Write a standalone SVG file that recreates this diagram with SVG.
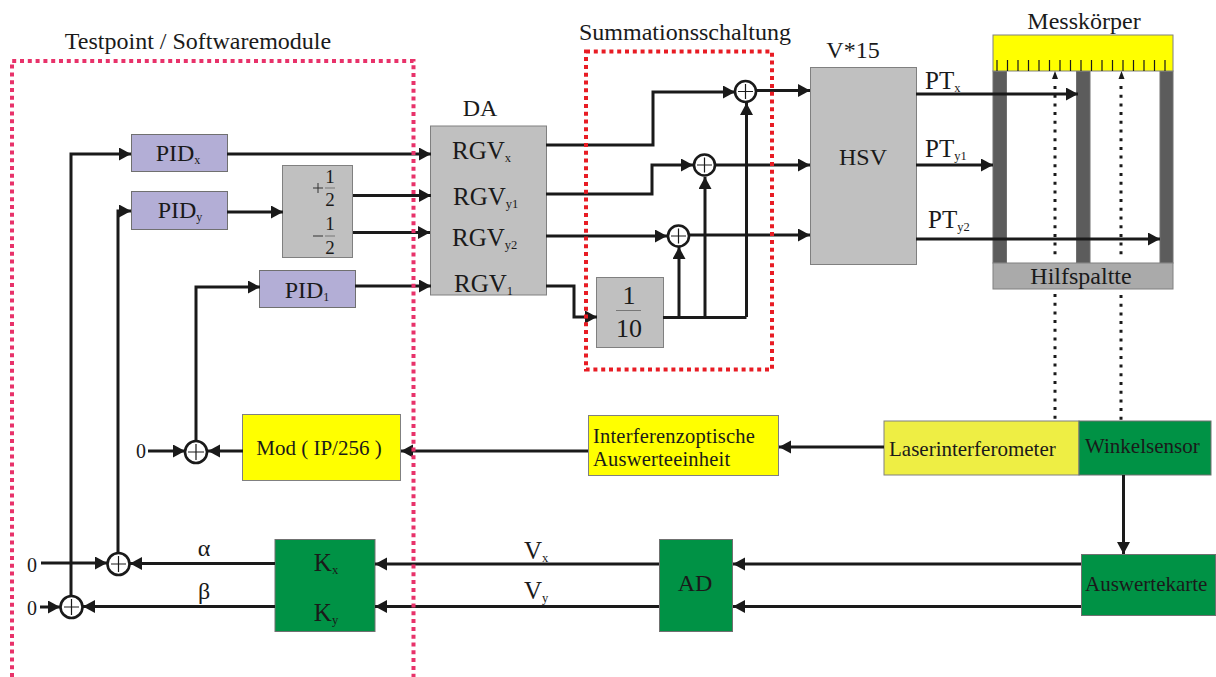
<svg xmlns="http://www.w3.org/2000/svg" width="1216" height="677" viewBox="0 0 1216 677">
<style>
text{font-family:"Liberation Serif","Times New Roman",serif;fill:#1a1a1a}
.t{font-size:24px;text-anchor:middle}
.l{font-size:21px}
.r{font-size:25px}
.s{font-size:.5em}
.gray{fill:#c0c0c0;stroke:#808080;stroke-width:1}
.purple{fill:#b3aed6;stroke:#707070;stroke-width:1}
.yellow{fill:#ffff00;stroke:#808080;stroke-width:1}
.green{fill:#009245;stroke:#707070;stroke-width:1}
.dark{fill:#5c5c5c;stroke:#707070;stroke-width:1}
.c{fill:none;stroke:#1a1a1a;stroke-width:3}
.a{marker-end:url(#ah)}
.dot{fill:none;stroke:#1a1a1a;stroke-width:3;stroke-dasharray:3 5.7}
.sum{fill:#fff;stroke:#1a1a1a;stroke-width:2.6}
.plus{stroke:#1a1a1a;stroke-width:1.2;fill:none}
.frac{stroke:#777;stroke-width:1;fill:none}
.f{font-size:19px;text-anchor:middle}
.p{stroke:#333;stroke-width:1;fill:none}
</style>
<defs>
<marker id="ah" markerUnits="userSpaceOnUse" markerWidth="13" markerHeight="14" refX="12" refY="6.500" orient="auto"><path d="M0 0L12 6.500L0 13Z" fill="#1a1a1a"/></marker>
</defs>

<text x="198" y="49" class="t">Testpoint / Softwaremodule</text>
<text x="685" y="40" class="t">Summationsschaltung</text>
<text x="480" y="116" class="t">DA</text>
<text x="853" y="58" class="t">V*15</text>

<g id="node-messkoerper">
<text x="1084" y="29" class="t">Messkörper</text>
<rect class="dark" x="993" y="71" width="13.500" height="192"/>
<rect class="dark" x="1076.500" y="71" width="13.500" height="192"/>
<rect class="dark" x="1160" y="71" width="13" height="192"/>
<rect class="yellow" x="993" y="35" width="180" height="36"/>
<path stroke="#1a1a1a" stroke-width="1.200" fill="none" d="M997 60V71M1007.500 60V71M1018 60V71M1028.500 60V71M1039 60V71M1049.500 60V71M1060 60V71M1070.500 60V71M1081 60V71M1091.500 60V71M1102 60V71M1112.500 60V71M1123 60V71M1133.500 60V71M1144 60V71M1154.500 60V71M1165 60V71"/>
<rect class="gray" x="993" y="263" width="180" height="26" style="fill:#aaa"/>
<text x="1081" y="284" class="t">Hilfspaltte</text>
</g>

<g id="node-pidx"><rect class="purple" x="131.500" y="134.500" width="96" height="37"/><text x="178" y="161" class="t">PID<tspan class="s" dy="3">x</tspan></text></g>
<g id="node-pidy"><rect class="purple" x="131.500" y="191.500" width="96" height="38"/><text x="180" y="218" class="t">PID<tspan class="s" dy="3">y</tspan></text></g>
<g id="node-pid1"><rect class="purple" x="259.500" y="270.500" width="96" height="37"/><text x="307" y="298" class="t">PID<tspan class="s" dy="3">1</tspan></text></g>

<g id="node-half">
<rect class="gray" x="282.500" y="165.500" width="70" height="92"/>
<path class="p" d="M313 188H323M318 183V193M313 236H323"/>
<text x="330" y="183" class="f">1</text>
<path class="frac" d="M325 188H335"/>
<text x="330" y="206" class="f">2</text>
<text x="330" y="230" class="f">1</text>
<path class="frac" d="M325 236H335"/>
<text x="330" y="254" class="f">2</text>
</g>

<g id="node-rgv">
<rect class="gray" x="430.500" y="126" width="116" height="169"/>
<text x="452" y="159" class="r">RGV<tspan class="s" dy="3">x</tspan></text>
<text x="453" y="205" class="r">RGV<tspan class="s" dy="3">y1</tspan></text>
<text x="452" y="246" class="r">RGV<tspan class="s" dy="3">y2</tspan></text>
<text x="454" y="292" class="r">RGV<tspan class="s" dy="3">1</tspan></text>
</g>

<g id="node-tenth">
<rect class="gray" x="596.500" y="277.500" width="67" height="70"/>
<text x="629" y="304" class="t" style="font-size:26px">1</text>
<path class="frac" d="M616 310.500H641"/>
<text x="629" y="337" class="t" style="font-size:26px">10</text>
</g>

<g id="node-hsv"><rect class="gray" x="810.500" y="67.500" width="106" height="197"/><text x="863" y="165" class="t">HSV</text></g>
<g id="node-mod"><rect class="yellow" x="242.500" y="414.500" width="158" height="66"/><text x="319" y="455" class="t" style="font-size:21px">Mod ( IP/256 )</text></g>
<g id="node-interf"><rect class="yellow" x="588.500" y="415.500" width="190" height="60"/><text x="593" y="443" class="l" style="font-size:20.5px;letter-spacing:.2px">Interferenzoptische</text><text x="593" y="466" class="l" style="font-size:20.5px;letter-spacing:.2px">Auswerteeinheit</text></g>
<g id="node-laser"><rect x="884" y="421" width="195" height="54" fill="#eeee44" stroke="#808080"/><text x="889" y="456" class="l">Laserinterferometer</text></g>
<g id="node-winkel"><rect class="green" x="1079" y="421" width="132" height="54"/><text x="1085" y="453" class="l">Winkelsensor</text></g>
<g id="node-karte"><rect class="green" x="1081.500" y="554.500" width="134" height="61"/><text x="1085" y="591" class="l">Auswertekarte</text></g>
<g id="node-ad"><rect class="green" x="659.500" y="539.500" width="73" height="92"/><text x="695" y="591" class="t">AD</text></g>
<g id="node-k"><rect class="green" x="275" y="539.500" width="100" height="92"/><text x="326" y="571" class="t" style="font-size:25px">K<tspan class="s" dy="3">x</tspan></text><text x="326" y="621" class="t" style="font-size:25px">K<tspan class="s" dy="3">y</tspan></text></g>

<g id="connectors">
<path class="c a" d="M71 596V154H131"/>
<path class="c a" d="M118 553V211H131"/>
<path class="c a" d="M227 154H431"/>
<path class="c a" d="M227 212H283"/>
<path class="c a" d="M353 195.500H431"/>
<path class="c a" d="M353 232.500H430"/>
<path class="c a" d="M355 286H431"/>
<path class="c a" d="M196 440V287H260"/>
<path class="c a" d="M546 145H653V92H735"/>
<path class="c a" d="M546 194H652V165H693"/>
<path class="c a" d="M546 236H667"/>
<path class="c a" d="M546 286H574V317H597"/>
<path class="c" d="M663 317.500H746.500"/>
<path class="c a" d="M679 317V247"/>
<path class="c a" d="M705 317V177"/>
<path class="c a" d="M746.500 317V103"/>
<path class="c a" d="M757 90.500H810"/>
<path class="c a" d="M716 165H810"/>
<path class="c a" d="M690 235H810"/>
<path class="c a" d="M916 94H1078"/>
<path class="c a" d="M916 165H993"/>
<path class="c a" d="M916 239H1160"/>
<path class="dot" d="M1055 86V260M1055 294V420"/>
<path class="dot" d="M1121 86V260M1121 295V420"/>
<path d="M1055 71L1058 79H1052ZM1121.500 71L1124.500 79H1118.500Z" fill="#1a1a1a"/>
<path class="c a" d="M1123.500 475V554"/>
<path class="c a" d="M884 447H779"/>
<path class="c a" d="M588 451H401"/>
<path class="c a" d="M243 451H208"/>
<path class="c a" d="M148 451H185"/>
<path class="c a" d="M659 564H375"/>
<path class="c a" d="M659 606.500H375"/>
<path class="c a" d="M1081 564H733"/>
<path class="c a" d="M1081 606.500H733"/>
<path class="c a" d="M275 563.500H130"/>
<path class="c a" d="M275 606.500H83"/>
<path class="c a" d="M41 563H107"/>
<path class="c a" d="M40 607H60"/>
</g>

<g id="sums">
<circle class="sum" cx="745.500" cy="91.500" r="10.500"/><path class="plus" d="M738 91.500H753M745.500 84V99"/>
<circle class="sum" cx="704.500" cy="165" r="10.500"/><path class="plus" d="M697 165H712M704.500 157.500V172.500"/>
<circle class="sum" cx="678.500" cy="236" r="10.500"/><path class="plus" d="M671 236H686M678.500 228.500V243.500"/>
<circle class="sum" cx="196" cy="452" r="11"/><path class="plus" d="M188 452H204M196 444V460"/>
<circle class="sum" cx="118.500" cy="564" r="11"/><path class="plus" d="M111 564H126M118.500 556V572"/>
<circle class="sum" cx="71.500" cy="607" r="11"/><path class="plus" d="M64 607H79M71.500 599V615"/>
</g>

<g id="regions">
<path d="M12 677V61H413.500V677" fill="none" stroke="#e8326a" stroke-width="4" stroke-dasharray="4 3.800"/>
<rect x="586" y="51.500" width="186" height="318" fill="none" stroke="#e81c24" stroke-width="4" stroke-dasharray="4 3.800"/>
</g>

<g id="labels">
<text x="925" y="89" class="r">PT<tspan class="s" dy="3">x</tspan></text>
<text x="925" y="157" class="r">PT<tspan class="s" dy="3">y1</tspan></text>
<text x="928" y="228" class="r">PT<tspan class="s" dy="3">y2</tspan></text>
<text x="524" y="559" class="r">V<tspan class="s" dy="3">x</tspan></text>
<text x="524" y="599" class="r">V<tspan class="s" dy="3">y</tspan></text>
<text x="204" y="556" class="t" style="font-family:'Liberation Serif','DejaVu Serif',serif">α</text>
<text x="204" y="599" class="t" style="font-family:'Liberation Serif','DejaVu Serif',serif">β</text>
<text x="32" y="572" class="t" style="font-size:20px">0</text>
<text x="32" y="615" class="t" style="font-size:20px">0</text>
<text x="141" y="458" class="t" style="font-size:20px">0</text>
</g>
</svg>
